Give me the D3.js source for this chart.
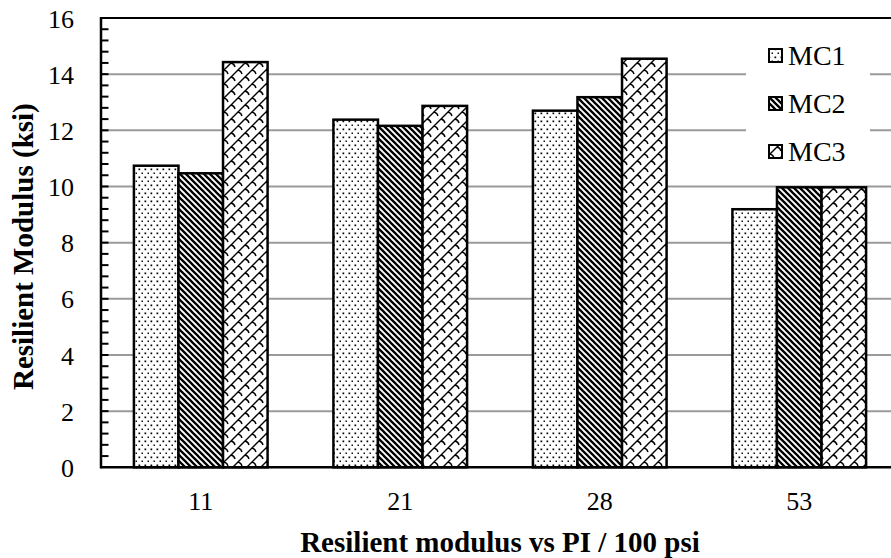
<!DOCTYPE html>
<html>
<head>
<meta charset="utf-8">
<script src="https://cdn.jsdelivr.net/npm/d3@7"></script>
<style>
  html, body { margin: 0; padding: 0; background: #fff; }
  svg { display: block; }
  svg text { font-family: "Liberation Serif", "Times New Roman", "DejaVu Serif", serif !important; fill: #000; }
</style>
</head>
<body>
<script>
const categories = ["11", "21", "28", "53"];
const seriesNames = ["MC1", "MC2", "MC3"];
const mc1 = [10.74, 12.38, 12.70, 9.19];
const mc2 = [10.47, 12.16, 13.18, 9.97];
const mc3 = [14.43, 12.87, 14.55, 9.97];
const yTicks = [0, 2, 4, 6, 8, 10, 12, 14, 16];
const xTitle = "Resilient modulus vs PI / 100 psi";
const yTitle = "Resilient Modulus (ksi)";

const seriesValues = [mc1, mc2, mc3];
const W = 891, H = 558;
const mLeft = 101, mRight = 899, mTop = 18, mBottom = 467.3;
const SERIF = "'Liberation Serif', 'Times New Roman', serif";

const svg = d3.select("body").append("svg").attr("width", W).attr("height", H);
svg.append("rect").attr("width", W).attr("height", H).attr("fill", "#fff");

// patterns
const defs = svg.append("defs");
const p1 = defs.append("pattern").attr("id", "pat1").attr("patternUnits", "userSpaceOnUse")
  .attr("width", 6).attr("height", 8);
p1.append("rect").attr("width", 6).attr("height", 8).attr("fill", "#fff");
p1.append("rect").attr("x", 0.5).attr("y", 0.5).attr("width", 1.7).attr("height", 1.7).attr("fill", "#000");
p1.append("rect").attr("x", 3.5).attr("y", 4.5).attr("width", 1.5).attr("height", 1.5).attr("fill", "#111");

const p2 = defs.append("pattern").attr("id", "pat2").attr("patternUnits", "userSpaceOnUse")
  .attr("width", 6).attr("height", 6);
p2.append("rect").attr("width", 6).attr("height", 6).attr("fill", "#fff");
p2.append("path").attr("d", "M-1,-1 L7,7 M-1,5 L1,7 M5,-1 L7,1")
  .attr("stroke", "#000").attr("stroke-width", 2.3);

// brick-like diagonal pattern
const p3 = defs.append("pattern").attr("id", "pat3").attr("patternUnits", "userSpaceOnUse")
  .attr("width", 14).attr("height", 14);
p3.append("rect").attr("width", 14).attr("height", 14).attr("fill", "#fff");
p3.append("path")
  .attr("d", "M-1,15 L15,-1 M-1,1 L1,-1 M13,15 L15,13 " +
             "M7,7 C9,7.5 10.5,9 11,11 M0,0 C2,0.5 3.5,2 4,4 M14,14 C16,14.5 17.5,16 18,18 M-7,-7 C-5,-6.5 -3.5,-5 -3,-3")
  .attr("stroke", "#000").attr("stroke-width", 1.4).attr("fill", "none");

const pats = ["url(#pat1)", "url(#pat2)", "url(#pat3)"];

const x = d3.scaleBand().domain(categories).range([mLeft, mRight])
  .paddingInner(0.33).paddingOuter(0.165);
const xs = d3.scaleBand().domain(seriesNames).range([0, x.bandwidth()]).padding(0);
const y = d3.scaleLinear().domain([0, 16]).range([mBottom, mTop]);

// gridlines
svg.append("g").selectAll("line").data(yTicks.filter(t => t > 0 && t < 16)).join("line")
  .attr("x1", mLeft).attr("x2", W).attr("y1", d => y(d)).attr("y2", d => y(d))
  .attr("stroke", "#9a9a9a").attr("stroke-width", 2);

// top border
svg.append("line").attr("x1", mLeft).attr("x2", W).attr("y1", y(16)).attr("y2", y(16))
  .attr("stroke", "#000").attr("stroke-width", 2);

// bars
const data = [];
categories.forEach((c, i) => seriesNames.forEach((s, j) => data.push({ c, s, j, v: seriesValues[j][i] })));
svg.append("g").selectAll("rect").data(data).join("rect")
  .attr("x", d => x(d.c) + xs(d.s))
  .attr("y", d => y(d.v))
  .attr("width", xs.bandwidth())
  .attr("height", d => y(0) - y(d.v))
  .attr("fill", d => pats[d.j])
  .attr("stroke", "#000").attr("stroke-width", 2.5);

// legend
const lg = svg.append("g");
lg.append("rect").attr("x", 746).attr("y", 28).attr("width", 124).attr("height", 148).attr("fill", "#fff");
seriesNames.forEach((s, i) => {
  const cy = 56 + i * 48;
  lg.append("rect").attr("x", 769).attr("y", cy - 7).attr("width", 13).attr("height", 13)
    .attr("fill", pats[i]).attr("stroke", "#000").attr("stroke-width", 2);
  lg.append("text").attr("x", 788).attr("y", cy + 9).style("font-family", SERIF)
    .style("font-size", "28px").text(s);
});

// y axis
const yAxis = d3.axisLeft(y).tickValues(yTicks).tickSize(0).tickPadding(0).tickFormat(d3.format("d"));
const ya = svg.append("g").attr("transform", `translate(${mLeft},0)`).call(yAxis)
  .attr("font-family", SERIF);
ya.select(".domain").remove();
ya.selectAll("text").attr("x", -27).attr("dy", "0.35em")
  .style("font-family", SERIF).style("font-size", "26px");
// inward ticks (major + minor)
const minor = d3.range(0, 16.001, 0.4).filter(v => v > 0.01 && v < 15.99);
svg.append("g").selectAll("line").data(minor).join("line")
  .attr("x1", mLeft).attr("x2", mLeft + 7.5).attr("y1", d => y(d)).attr("y2", d => y(d))
  .attr("stroke", "#000").attr("stroke-width", 2);
svg.append("line").attr("x1", mLeft).attr("x2", mLeft).attr("y1", mTop - 1).attr("y2", mBottom + 1)
  .attr("stroke", "#000").attr("stroke-width", 2.5);

// x axis
const xAxis = d3.axisBottom(x).tickSize(0).tickPadding(0);
const xa = svg.append("g").attr("transform", `translate(0,${mBottom})`).call(xAxis)
  .attr("font-family", SERIF);
xa.select(".domain").remove();
xa.selectAll("text").attr("y", 43).attr("dy", 0)
  .style("font-family", SERIF).style("font-size", "26px");
svg.append("line").attr("x1", mLeft - 1).attr("x2", W).attr("y1", mBottom).attr("y2", mBottom)
  .attr("stroke", "#000").attr("stroke-width", 2.5);

// titles
svg.append("text").attr("x", (mLeft + mRight) / 2).attr("y", 552).attr("text-anchor", "middle")
  .style("font-family", SERIF).style("font-size", "29px").style("font-weight", "bold").text(xTitle);
svg.append("text").attr("transform", `translate(33,${(mTop + mBottom) / 2 + 4}) rotate(-90)`)
  .attr("text-anchor", "middle")
  .style("font-family", SERIF).style("font-size", "29px").style("font-weight", "bold").text(yTitle);
</script>
</body>
</html>
